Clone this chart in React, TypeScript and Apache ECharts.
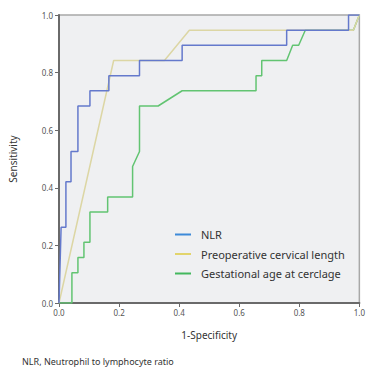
import React, { useEffect, useRef } from "react";
import * as echarts from "echarts";

const seriesNames = ["NLR", "Preoperative cervical length", "Gestational age at cerclage"];

const nlrPoints: [number, number][] = [
  [0, 0], [0.007, 0.263], [0.023, 0.263], [0.023, 0.421], [0.04, 0.421], [0.04, 0.526],
  [0.063, 0.526], [0.063, 0.684], [0.103, 0.684], [0.103, 0.737], [0.166, 0.737],
  [0.166, 0.789], [0.268, 0.789], [0.268, 0.842], [0.41, 0.842], [0.41, 0.895],
  [0.758, 0.895], [0.758, 0.947], [0.964, 0.947], [0.964, 1], [1, 1],
];

const cervicalPoints: [number, number][] = [
  [0, 0], [0.182, 0.842], [0.351, 0.842], [0.434, 0.947], [0.98, 0.947], [1, 1],
];

const gestationalPoints: [number, number][] = [
  [0, 0], [0.043, 0], [0.043, 0.105], [0.063, 0.105], [0.063, 0.158], [0.083, 0.158],
  [0.083, 0.211], [0.103, 0.211], [0.103, 0.316], [0.162, 0.316], [0.162, 0.368],
  [0.245, 0.368], [0.245, 0.474], [0.268, 0.526], [0.268, 0.684], [0.33, 0.684],
  [0.41, 0.737], [0.656, 0.737], [0.656, 0.789], [0.675, 0.789], [0.675, 0.842],
  [0.758, 0.842], [0.778, 0.895], [0.798, 0.895], [0.82, 0.947], [0.98, 0.947], [1, 1],
];

const axisTicks = [0, 0.2, 0.4, 0.6, 0.8, 1.0];
const xAxisTitle = "1-Specificity";
const yAxisTitle = "Sensitivity";
const footnote = "NLR, Neutrophil to lymphocyte ratio";

const lineColors = ["#6479cc", "#dcd6a4", "#62c472"];
const legendColors = ["#3d8ad9", "#e2d46c", "#43b85e"];

export default function App() {
  const ref = useRef<HTMLDivElement>(null);
  useEffect(() => {
    if (!ref.current) return;
    const chart = echarts.init(ref.current, undefined, { renderer: "svg" });
    const font = "'Noto Sans', sans-serif";
    const fmt = (v: number) => v.toFixed(1);
    const pointSets = [nlrPoints, cervicalPoints, gestationalPoints];
    chart.setOption({
      animation: false,
      backgroundColor: "#ffffff",
      textStyle: { fontFamily: font },
      grid: {
        left: 59, top: 15, width: 302, height: 288,
        show: true, backgroundColor: "#eff0f2", borderColor: "#a8a8a8", borderWidth: 1.5,
      },
      xAxis: {
        type: "value", min: 0, max: 1, interval: 0.2,
        name: xAxisTitle, nameLocation: "middle", nameGap: 27,
        nameTextStyle: { fontSize: 10, color: "#333", fontFamily: font },
        axisLine: { show: true, lineStyle: { color: "#6a6a6a", width: 2 } },
        axisTick: { show: true, length: 4, lineStyle: { color: "#6a6a6a" } },
        axisLabel: { fontSize: 8, color: "#555", margin: 5, formatter: fmt, customValues: axisTicks },
        splitLine: { show: false },
      },
      yAxis: {
        type: "value", min: 0, max: 1, interval: 0.2,
        name: yAxisTitle, nameLocation: "middle", nameGap: 41,
        nameTextStyle: { fontSize: 10, color: "#333", fontFamily: font },
        axisLine: { show: true, lineStyle: { color: "#6a6a6a", width: 2 } },
        axisTick: { show: true, length: 4, lineStyle: { color: "#6a6a6a" } },
        axisLabel: { fontSize: 8, color: "#555", margin: 6, formatter: fmt },
        splitLine: { show: false },
      },
      legend: {
        orient: "vertical", left: 170, top: 223,
        icon: "rect", itemWidth: 16, itemHeight: 2, itemGap: 6.5,
        textStyle: { fontSize: 11, color: "#333", lineHeight: 13, padding: [0, 0, 0, 5], fontFamily: font },
        data: seriesNames.map((n, i) => ({ name: n, itemStyle: { color: legendColors[i] } })),
      },
      series: seriesNames.map((n, i) => ({
        name: n, type: "line", data: pointSets[i], showSymbol: false, symbol: "none",
        lineStyle: { color: lineColors[i], width: 1.5 }, itemStyle: { color: lineColors[i] },
        z: 3 - i,
      })),
      graphic: [
        {
          type: "text", left: 22, top: 357,
          style: { text: footnote, fontSize: 9, fill: "#333", fontFamily: font },
        },
      ],
    });
    return () => chart.dispose();
  }, []);
  return <div ref={ref} style={{ position: "fixed", left: 0, top: 0, width: 368, height: 383 }} />;
}
